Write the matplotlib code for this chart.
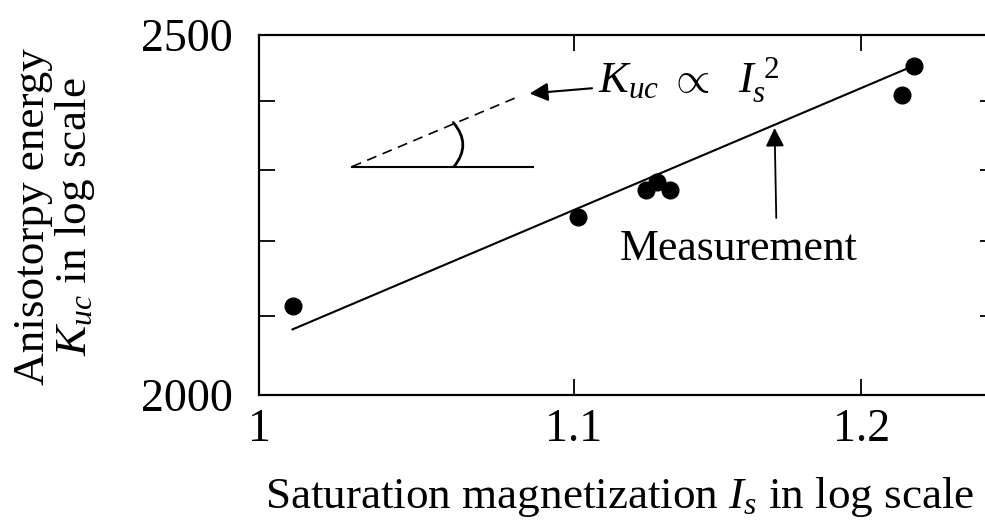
import numpy as np
import matplotlib
matplotlib.use("Agg")
import matplotlib.pyplot as plt
from matplotlib.ticker import NullFormatter, FixedLocator

plt.rcParams['font.family'] = ['Liberation Serif', 'DejaVu Serif']
plt.rcParams['mathtext.fontset'] = 'custom'
plt.rcParams['mathtext.rm'] = 'Liberation Serif'
plt.rcParams['mathtext.it'] = 'Liberation Serif:italic'

Is = [1.0102, 1.1013, 1.1243, 1.1279, 1.1326, 1.2149, 1.2195]
Kuc = [2113, 2234, 2271, 2283, 2271, 2409, 2453]

# fitted line
fit_x = [1.0101, 1.2176]
fit_y = [2083, 2450]

# reference slope sketch
ref_base_x = [1.0284, 1.0863]
ref_base_y = [2304, 2304]
ref_dash_x = [1.0284, 1.0804]
ref_dash_y = [2304, 2404]

x_ticks = [1, 1.1, 1.2]
x_ticklabels = ['1', '1.1', '1.2']
y_ticks = [2000, 2500]
y_minor = [2100, 2200, 2300, 2400]

fig = plt.figure(figsize=(9.85, 5.29), dpi=100)
ax = fig.add_axes([0.2633, 0.2533, 0.7479, 0.6805])

ax.plot(fit_x, fit_y, color='k', lw=1.5)
ax.plot(Is, Kuc, 'o', color='k', ms=12, mec='k')
ax.plot(ref_base_x, ref_base_y, color='k', lw=1.5)
ax.plot(ref_dash_x, ref_dash_y, color='k', lw=1.2, dashes=(6, 4))

# angle arc
ax.annotate('', xy=(1.0605, 2368), xytext=(1.0607, 2304),
            arrowprops=dict(arrowstyle='-', lw=2.0, color='k',
                            connectionstyle='arc3,rad=0.42',
                            shrinkA=0, shrinkB=0))

ax.annotate(r'$K_{uc}\ \propto\ \ I_s^{\ 2}$', xy=(1.0853, 2411), xytext=(1.1079, 2431),
            fontsize=32, ha='left', va='center',
            arrowprops=dict(arrowstyle='-|>', lw=1.5, color='k',
                            mutation_scale=28, shrinkA=2, shrinkB=0))

ax.annotate('', xy=(1.1689, 2360), xytext=(1.1695, 2232),
            arrowprops=dict(arrowstyle='-|>', lw=1.3, color='k',
                            mutation_scale=28, shrinkA=0, shrinkB=0))
ax.text(1.1563, 2189, 'Measurement', fontsize=31.5, ha='center', va='center')

ax.set_xscale('log')
ax.set_yscale('log')
ax.set_xlim(1, 1.25)
ax.set_ylim(2000, 2500)

ax.xaxis.set_major_locator(FixedLocator(x_ticks))
ax.xaxis.set_minor_locator(FixedLocator([]))
ax.set_xticklabels(x_ticklabels)
ax.xaxis.set_minor_formatter(NullFormatter())
ax.yaxis.set_major_locator(FixedLocator(y_ticks))
ax.yaxis.set_minor_locator(FixedLocator(y_minor))
ax.set_yticklabels([str(v) for v in y_ticks])
ax.yaxis.set_minor_formatter(NullFormatter())

ax.tick_params(which='both', direction='in', top=True, right=True,
               length=11.5, width=1.3, labelsize=33)
ax.tick_params(axis='x', pad=10)
ax.tick_params(axis='y', pad=19)
for s in ax.spines.values():
    s.set_linewidth(1.6)

fig.text(55 / 985, 1 - 217 / 529, 'Anisotorpy energy\n$K_{uc}$ in log scale',
         rotation=90, ha='center', va='center', multialignment='center',
         fontsize=32.5, linespacing=1.0)
fig.text(620 / 985, 1 - 508 / 529, 'Saturation magnetization $I_s$ in log scale',
         ha='center', va='baseline', fontsize=32.5)

fig.savefig('out.png', dpi=100)
